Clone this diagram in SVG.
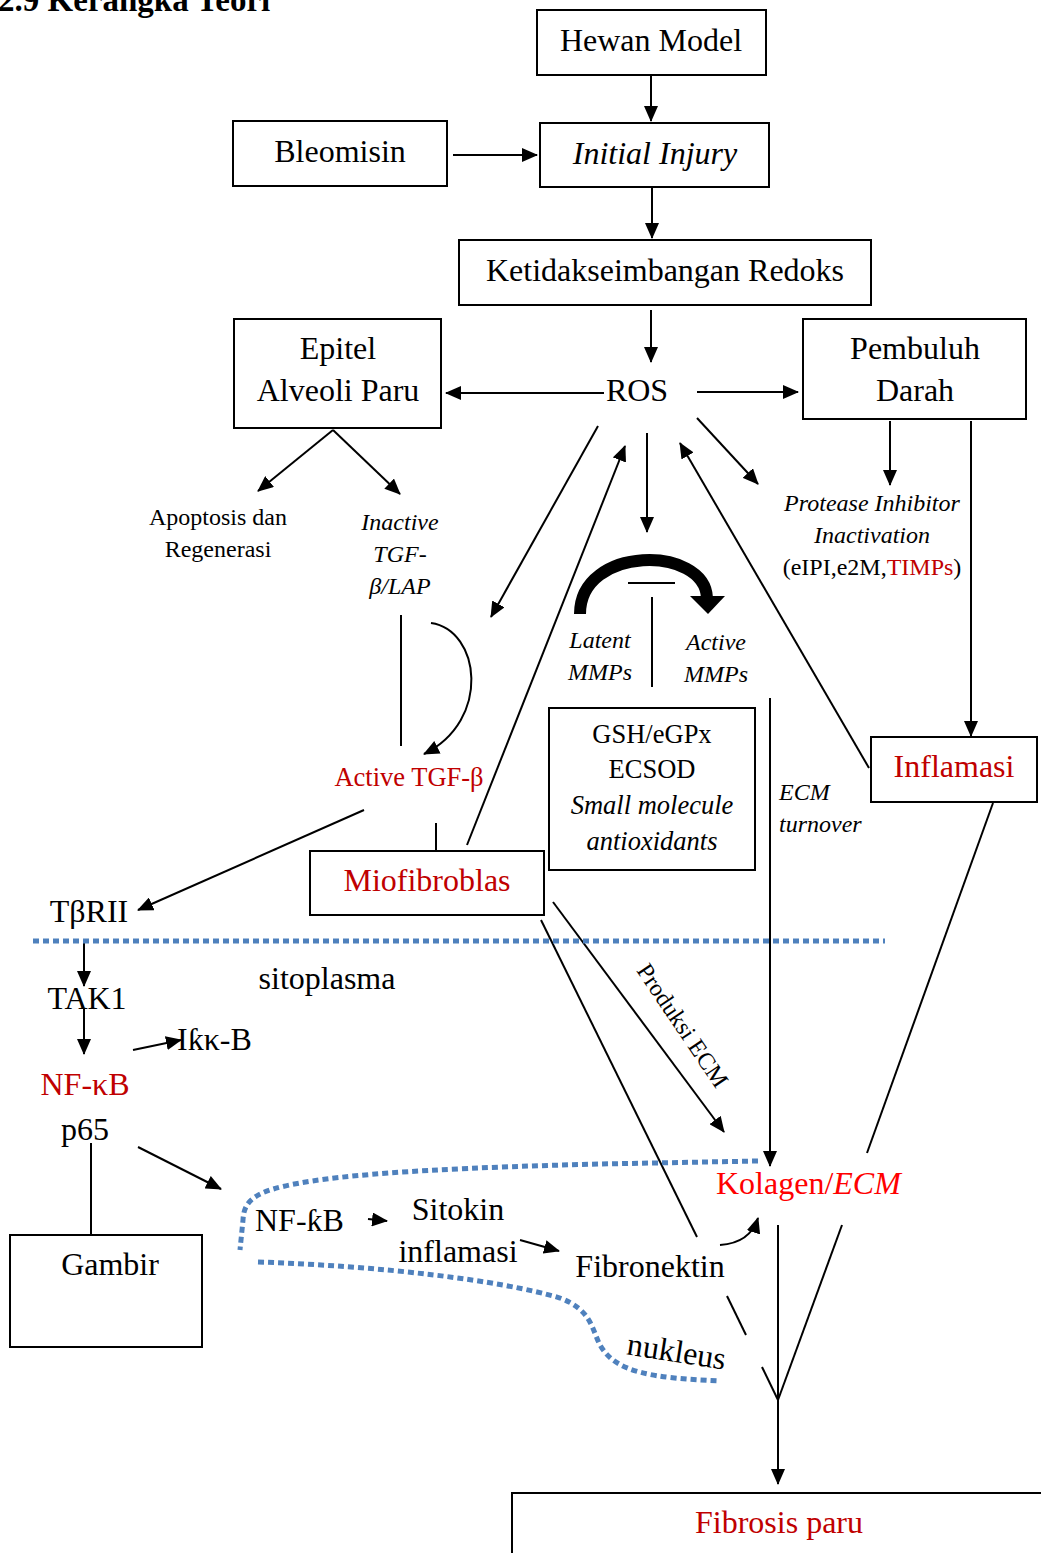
<svg xmlns="http://www.w3.org/2000/svg" width="1041" height="1553" viewBox="0 0 1041 1553">
<style>
text{font-family:"Liberation Serif","Times New Roman",serif;fill:#000}
.t{font-size:32px;text-anchor:middle}
.m{font-size:26.5px;text-anchor:middle}
.s{font-size:24px;text-anchor:middle}
.i{font-style:italic}
.r{fill:#c00000}
.box{fill:#fff;stroke:#000;stroke-width:2}
.ln{fill:none;stroke:#000;stroke-width:2}
.ar{fill:none;stroke:#000;stroke-width:2;marker-end:url(#ah)}
.dot{fill:none;stroke:#4f81bd;stroke-width:5;stroke-dasharray:6 4}
</style>
<defs>
<marker id="ah" markerUnits="userSpaceOnUse" markerWidth="17" markerHeight="14" refX="15" refY="7" orient="auto">
<path d="M0,0 L16,7 L0,14 z" fill="#000"/>
</marker>
</defs>
<text x="-2" y="11" style="font-size:33px;font-weight:bold">2.9  Kerangka Teori</text>

<g id="connectors">
<line class="ar" x1="651" y1="75" x2="651" y2="121"/>
<line class="ar" x1="453" y1="155" x2="537" y2="155"/>
<line class="ar" x1="652" y1="188" x2="652" y2="238"/>
<line class="ar" x1="651" y1="310" x2="651" y2="362"/>
<line class="ar" x1="604" y1="393" x2="446" y2="393"/>
<line class="ar" x1="697" y1="392" x2="798" y2="392"/>
<line class="ar" x1="333" y1="430" x2="258" y2="491"/>
<line class="ar" x1="333" y1="430" x2="400" y2="494"/>
<line class="ar" x1="598" y1="426" x2="491" y2="617"/>
<line class="ar" x1="467" y1="845" x2="625" y2="446"/>
<line class="ar" x1="647" y1="433" x2="647" y2="532"/>
<line class="ar" x1="869" y1="768" x2="680" y2="443"/>
<line class="ar" x1="697" y1="418" x2="758" y2="484"/>
<line class="ar" x1="890" y1="421" x2="890" y2="485"/>
<line class="ar" x1="971" y1="421" x2="971" y2="736"/>
<line class="ln" x1="401" y1="615" x2="401" y2="746"/>
<path class="ar" d="M431,623 C480,630 492,720 424,754"/>
<line class="ln" x1="436" y1="823" x2="436" y2="851"/>
<line class="ar" x1="364" y1="810" x2="138" y2="910"/>
<path d="M580,614 C580,545 705,545 707,598" fill="none" stroke="#000" stroke-width="12"/>
<polygon points="690,596 725,596 708,614" fill="#000"/>
<line class="ln" x1="628" y1="583" x2="675" y2="583"/>
<line class="ln" x1="652" y1="597" x2="652" y2="687"/>
<line class="ar" x1="770" y1="698" x2="770" y2="1166"/>
<line class="ln" x1="993" y1="803" x2="867" y2="1153"/>
<line class="ar" x1="553" y1="902" x2="724" y2="1132"/>
<line class="ln" x1="541" y1="920" x2="697" y2="1237"/>
<line class="ln" x1="727" y1="1296" x2="746" y2="1335"/>
<line class="ln" x1="762" y1="1367" x2="778" y2="1400"/>
<line class="ln" x1="842" y1="1225" x2="778" y2="1400"/>
<line class="ar" x1="778" y1="1225" x2="778" y2="1484"/>
<line class="ar" x1="84" y1="940" x2="84" y2="986"/>
<line class="ar" x1="84" y1="1008" x2="84" y2="1054"/>
<line class="ar" x1="133" y1="1050" x2="181" y2="1040"/>
<line class="ln" x1="91" y1="1143" x2="91" y2="1235"/>
<line class="ar" x1="138" y1="1147" x2="221" y2="1189"/>
<line class="ar" x1="368" y1="1219" x2="387" y2="1221"/>
<line class="ar" x1="520" y1="1240" x2="559" y2="1251"/>
<path class="ar" d="M720,1245 Q750,1243 758,1218"/>
</g>

<g id="membranes">
<line class="dot" x1="33" y1="941" x2="885" y2="941"/>
<path class="dot" d="M758,1161 L600,1164 C480,1167 360,1172 300,1183 C255,1191 244,1200 243,1220 L240,1250"/>
<path class="dot" d="M258,1262 C380,1266 500,1280 560,1298 C592,1310 592,1330 600,1345 C615,1372 650,1378 720,1381"/>
</g>

<g id="hewan"><rect class="box" x="537" y="10" width="229" height="65"/><text class="t" x="651" y="51">Hewan Model</text></g>
<g id="bleomisin"><rect class="box" x="233" y="121" width="214" height="65"/><text class="t" x="340" y="162">Bleomisin</text></g>
<g id="injury"><rect class="box" x="540" y="123" width="229" height="64"/><text class="t i" x="655" y="164">Initial Injury</text></g>
<g id="redoks"><rect class="box" x="459" y="240" width="412" height="65"/><text class="t" x="665" y="281">Ketidakseimbangan Redoks</text></g>
<g id="epitel"><rect class="box" x="234" y="319" width="207" height="109"/><text class="t" x="338" y="359">Epitel</text><text class="t" x="338" y="401">Alveoli Paru</text></g>
<g id="ros"><text class="t" x="637" y="401">ROS</text></g>
<g id="pembuluh"><rect class="box" x="803" y="319" width="223" height="100"/><text class="t" x="915" y="359">Pembuluh</text><text class="t" x="915" y="401">Darah</text></g>
<g id="apoptosis"><text class="s" x="218" y="525">Apoptosis dan</text><text class="s" x="218" y="557">Regenerasi</text></g>
<g id="inactive"><text class="s i" x="400" y="530">Inactive</text><text class="s i" x="400" y="562">TGF-</text><text class="s i" x="400" y="594">β/LAP</text></g>
<g id="protease"><text class="s i" x="872" y="511">Protease Inhibitor</text><text class="s i" x="872" y="543">Inactivation</text><text class="s" x="872" y="575">(eIPI,e2M,<tspan class="r">TIMPs</tspan>)</text></g>
<g id="latent"><text class="s i" x="600" y="648">Latent</text><text class="s i" x="600" y="680">MMPs</text></g>
<g id="activemmp"><text class="s i" x="716" y="650">Active</text><text class="s i" x="716" y="682">MMPs</text></g>
<g id="gsh"><rect class="box" x="549" y="708" width="206" height="162"/><text class="m" x="652" y="743">GSH/eGPx</text><text class="m" x="652" y="778">ECSOD</text><text class="m i" x="652" y="814">Small molecule</text><text class="m i" x="652" y="850">antioxidants</text></g>
<g id="activetgf"><text class="m r" x="409" y="786">Active TGF-β</text></g>
<g id="ecmturnover"><text class="s i" x="779" y="800" style="text-anchor:start">ECM</text><text class="s i" x="779" y="832" style="text-anchor:start">turnover</text></g>
<g id="inflamasi"><rect class="box" x="871" y="737" width="166" height="65"/><text class="t r" x="954" y="777">Inflamasi</text></g>
<g id="miofibroblas"><rect class="box" x="310" y="851" width="234" height="64"/><text class="t r" x="427" y="891">Miofibroblas</text></g>
<g id="tbrii"><text class="t" x="89" y="922">TβRII</text></g>
<g id="sitoplasma"><text class="t" x="327" y="989">sitoplasma</text></g>
<g id="tak1"><text class="t" x="87" y="1009">TAK1</text></g>
<g id="ikb"><text class="t" x="177" y="1050" style="text-anchor:start">Iƙκ-B</text></g>
<g id="nfkb"><text class="t r" x="85" y="1095">NF-κB</text></g>
<g id="p65"><text class="t" x="85" y="1140">p65</text></g>
<g id="gambir"><rect class="box" x="10" y="1235" width="192" height="112"/><text class="t" x="110" y="1275">Gambir</text></g>
<g id="nfkb2"><text class="t" x="255" y="1231" style="text-anchor:start">NF-ƙB</text></g>
<g id="sitokin"><text class="t" x="458" y="1220">Sitokin</text><text class="t" x="458" y="1262">inflamasi</text></g>
<g id="fibronektin"><text class="t" x="650" y="1277">Fibronektin</text></g>
<g id="kolagen"><text class="t" x="716" y="1194" style="text-anchor:start;fill:#ff0000">Kolagen/<tspan class="i">ECM</tspan></text></g>
<g id="produksi"><text class="s" transform="translate(676,1030) rotate(56)" x="0" y="0">Produksi ECM</text></g>
<g id="nukleus"><text class="t" transform="translate(675,1362) rotate(9)" x="0" y="0">nukleus</text></g>
<g id="fibrosis"><rect class="box" x="512" y="1493" width="540" height="70"/><text class="t r" x="779" y="1533">Fibrosis paru</text></g>
</svg>
